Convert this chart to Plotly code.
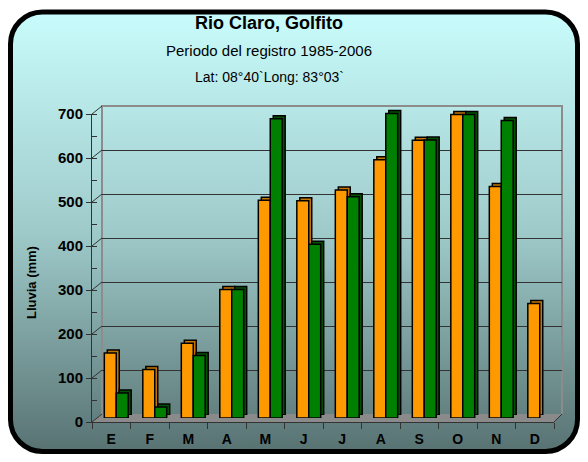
import base64
import plotly.graph_objects as go

# data (mm of rain per month)
months = ["E", "F", "M", "A", "M", "J", "J", "A", "S", "O", "N", "D"]
serie_naranja = [148, 110, 170, 292, 495, 494, 518, 587, 631, 690, 526, 260]
serie_verde = [57, 25, 142, 292, 680, 395, 503, 692, 632, 690, 676, None]
y_ticks = [0, 100, 200, 300, 400, 500, 600, 700]

# the page body adds an 8px margin all round, so the figure is 16px smaller
OFF = 8
W, H = 588 - 2 * OFF, 462 - 2 * OFF
ML, MT = 92 - OFF, 104 - OFF
MR, MB = W - (566 - OFF), H - (422 - OFF)
PW, PH = W - ML - MR, H - MT - MB


def fx(px):
    # px given in window coordinates
    return (px - OFF - ML) / PW


def fy(py):
    return (H - MB - (py - OFF)) / PH


FONT = "Liberation Sans"
pos = list(range(len(months)))

# background: rounded panel with vertical gradient (drawn in figure pixels)
svg = f"""<svg xmlns='http://www.w3.org/2000/svg' width='{W}' height='{H}' viewBox='0 0 {W} {H}'>
<defs><linearGradient id='g' x1='0' y1='0' x2='0' y2='1'>
<stop offset='0' stop-color='#c9fcfc'/><stop offset='0.5' stop-color='#9fcaca'/>
<stop offset='1' stop-color='#587272'/></linearGradient></defs>
<rect x='2.5' y='4' width='{W - 5}' height='{H - 6.5}' rx='32' ry='32' fill='url(#g)' stroke='black' stroke-width='5'/>
</svg>"""
bg_src = "data:image/svg+xml;base64," + base64.b64encode(svg.encode()).decode()

fig = go.Figure()

# side/top faces of the bars (shadow copies shifted back)
fig.add_trace(go.Bar(x=pos, y=serie_naranja, xaxis="x3", yaxis="y3",
                     marker=dict(color="#c47400", line=dict(color="black", width=1.5)),
                     hoverinfo="skip", showlegend=False))
fig.add_trace(go.Bar(x=pos, y=serie_verde, xaxis="x3", yaxis="y3",
                     marker=dict(color="#005200", line=dict(color="black", width=1.5)),
                     hoverinfo="skip", showlegend=False))
# front faces
fig.add_trace(go.Bar(x=pos, y=serie_naranja, xaxis="x4", yaxis="y4", name="Lluvia",
                     marker=dict(color="#ff9900", line=dict(color="black", width=1.5)),
                     showlegend=False))
fig.add_trace(go.Bar(x=pos, y=serie_verde, xaxis="x4", yaxis="y4", name="Lluvia 2",
                     marker=dict(color="#008000", line=dict(color="black", width=1.5)),
                     showlegend=False))
# empty traces so the front axes and back wall get drawn
fig.add_trace(go.Scatter(x=[None], y=[None], xaxis="x", yaxis="y", showlegend=False, hoverinfo="skip"))
fig.add_trace(go.Scatter(x=[None], y=[None], xaxis="x2", yaxis="y2", showlegend=False, hoverinfo="skip"))

xr = [-0.5, len(months) - 0.5]
yr = [0, 700]
hidden = dict(showgrid=False, zeroline=False, showticklabels=False, ticks="", showline=False,
              automargin=False)

fig.update_layout(
    width=W, height=H,
    margin=dict(l=ML, r=MR, t=MT, b=MB, autoexpand=False),
    paper_bgcolor="white",
    plot_bgcolor="rgba(0,0,0,0)",
    barmode="group", bargap=0.38, bargroupgap=0,
    font=dict(family=FONT, color="black"),
    xaxis=dict(domain=[fx(92), fx(554)], range=xr, anchor="y", automargin=False,
               tickvals=pos, ticktext=months, ticks="outside", ticklen=0,
               minor=dict(tick0=-0.5, dtick=1, ticks="outside", ticklen=6, tickcolor="#333", tickwidth=1),
               showline=True, linecolor="#333", linewidth=1, showgrid=False, zeroline=False,
               ticklabelstandoff=4,
               tickfont=dict(family=FONT, size=14, color="black", weight="bold")),
    yaxis=dict(domain=[fy(422), fy(114)], range=yr, anchor="x", automargin=False,
               tickvals=y_ticks, ticks="outside", ticklen=5, tickcolor="#333",
               minor=dict(dtick=50, ticks="inside", ticklen=5, tickcolor="#333"),
               showline=True, linecolor="#333", linewidth=1, showgrid=False, zeroline=False,
               tickfont=dict(family=FONT, size=15, color="black", weight="bold")),
    xaxis2=dict(domain=[fx(102), fx(562)], range=xr, anchor="y2", **hidden),
    yaxis2=dict(domain=[fy(414), fy(106)], range=yr, anchor="x2", automargin=False,
                showgrid=True, gridcolor="#333", gridwidth=1, tickvals=y_ticks,
                zeroline=False, showticklabels=False, ticks="", showline=False),
    xaxis3=dict(domain=[fx(100), fx(562)], range=xr, anchor="y3", **hidden),
    yaxis3=dict(domain=[fy(415), fy(107)], range=yr, anchor="x3", **hidden),
    xaxis4=dict(domain=[fx(97), fx(559)], range=xr, anchor="y4", **hidden),
    yaxis4=dict(domain=[fy(418), fy(110)], range=yr, anchor="x4", **hidden),
    images=[dict(source=bg_src, xref="paper", yref="paper", x=fx(OFF), y=fy(OFF),
                 sizex=W / PW, sizey=H / PH, xanchor="left", yanchor="top",
                 sizing="stretch", layer="below")],
)

shapes = []
# floor
shapes.append(dict(type="path", xref="paper", yref="paper", layer="below",
                   path=f"M {fx(92)},{fy(422)} L {fx(554)},{fy(422)} L {fx(562)},{fy(414)} L {fx(102)},{fy(414)} Z",
                   fillcolor="#8a8a8a", line=dict(width=0)))
# back wall frame
shapes.append(dict(type="path", xref="paper", yref="paper", layer="below",
                   path=f"M {fx(102)},{fy(414)} L {fx(102)},{fy(106)} L {fx(562)},{fy(106)} L {fx(562)},{fy(414)}",
                   line=dict(color="#8c8c8c", width=2)))
# side wall connectors
for v in y_ticks:
    yp = 422 - v * (422 - 114) / 700
    shapes.append(dict(type="line", xref="paper", yref="paper", layer="below",
                       x0=fx(92), y0=fy(yp), x1=fx(102), y1=fy(yp - 8),
                       line=dict(color="#333", width=1)))
shapes.append(dict(type="line", xref="paper", yref="paper", layer="below",
                   x0=fx(554), y0=fy(422), x1=fx(562), y1=fy(414),
                   line=dict(color="#333", width=1)))
fig.update_layout(shapes=shapes)

titles = [("Rio Claro, Golfito", 23, 18, "bold"),
          ("Periodo del registro 1985-2006", 50, 15, "normal"),
          ("Lat: 08°40`Long: 83°03`", 77, 14, "normal")]
for txt, yc, sz, wt in titles:
    fig.add_annotation(text=txt, xref="paper", yref="paper", x=fx(269), y=fy(yc),
                       showarrow=False, xanchor="center", yanchor="middle",
                       font=dict(family=FONT, size=sz, color="black", weight=wt))

fig.add_annotation(text="Lluvia (mm)", xref="paper", yref="paper", x=fx(31), y=fy(282),
                   showarrow=False, textangle=-90, xanchor="center", yanchor="middle",
                   font=dict(family=FONT, size=13, color="black", weight="bold"))

fig.write_html("out.html")
